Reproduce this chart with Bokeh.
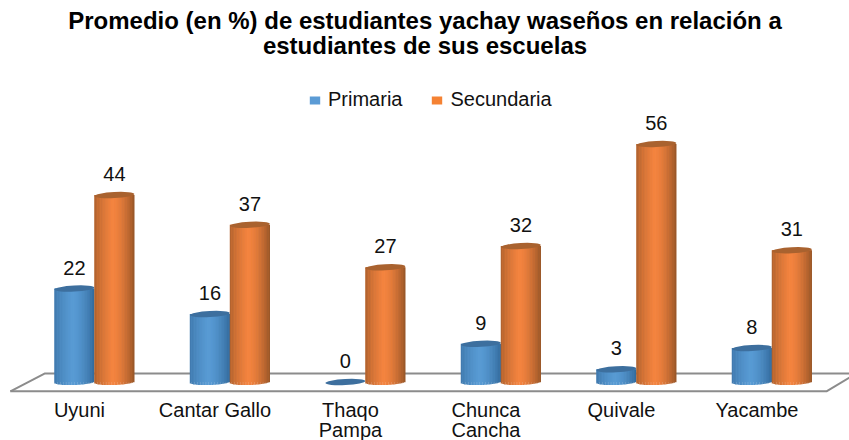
from bokeh.plotting import figure
from bokeh.embed import file_html
from bokeh.resources import INLINE
from bokeh.models import Range1d, FixedTicker, Legend, LegendItem, Title
import math

categories = ["Uyuni", "Cantar Gallo", "Thaqo\nPampa", "Chunca\nCancha", "Quivale", "Yacambe"]
primaria = [22, 16, 0, 9, 3, 8]
secundaria = [44, 37, 27, 32, 56, 31]
title_lines = ["Promedio (en %) de estudiantes yachay waseños en relación a", "estudiantes de sus escuelas"]

PX_Y = 4.25          # pixels per percentage point
PX_X = 135.5         # pixels per category
SKEW = 0.11          # depth shift of bars from their labels
BAR_W = 40 / PX_X
ELL_H = 6 / PX_Y
TILT = 1.5 / PX_Y
N = 26
font = "Liberation Sans"

p = figure(frame_width=849, frame_height=333, output_backend="svg", toolbar_location=None,
           x_range=Range1d(-0.583, 5.683), y_range=Range1d(-2.7, 75.65),
           min_border=0, min_border_top=60, min_border_left=0, min_border_right=0, min_border_bottom=0,
           background_fill_color="white", border_fill_color="white", outline_line_color=None,
           title=None)
p.grid.visible = False
p.yaxis.visible = False
p.add_layout(Title(text=title_lines[1], align="center", text_font=font, text_font_size="24px",
                   text_font_style="bold", text_color="#000000", standoff=3), "above")
p.add_layout(Title(text=title_lines[0], align="center", text_font=font, text_font_size="24px",
                   text_font_style="bold", text_color="#000000", standoff=-10), "above")

ax = p.xaxis[0]
ax.ticker = FixedTicker(ticks=list(range(len(categories))))
ax.major_label_overrides = {i: c for i, c in enumerate(categories)}
ax.axis_line_color = None
ax.major_tick_line_color = None
ax.minor_tick_line_color = None
ax.major_label_text_font = font
ax.major_label_text_font_size = "20px"
ax.major_label_text_color = "#111111"
ax.major_label_text_line_height = 0.95
ax.major_label_standoff = -1

# floor of the 3-D plot
p.line([-0.51, 5.513, 5.683], [-2.2, -2.2, 1.05], line_color="#8c8c8c", line_width=2)
p.line([-0.51, -0.258, 5.683], [-2.2, 2.0, 2.0], line_color="#8c8c8c", line_width=2)


def lerp(a, b, t):
    return tuple(round(a[i] + (b[i] - a[i]) * t) for i in range(3))


def shade(c, edgeL, mid, edgeR):
    if c < 0.45:
        return lerp(edgeL, mid, (c / 0.45) ** 0.7)
    return lerp(mid, edgeR, ((c - 0.45) / 0.55) ** 1.6)


def cylinders(vals, dx, edgeL, mid, edgeR, top_col, flat):
    xs = [i + SKEW + dx for i in range(len(vals))]
    base = p.vbar(x=xs, top=vals, bottom=0, width=BAR_W * 0.98, fill_color=flat, line_color=None)
    for x, v in zip(xs, vals):
        if v > 0:
            sx, st, sb, sc = [], [], [], []
            for k in range(N):
                c = (k + 0.5) / N
                t = 2 * c - 1
                arc = math.sqrt(max(0, 1 - t * t)) * ELL_H / 2
                sx.append(x + t * BAR_W / 2)
                st.append(v)
                sb.append(-arc + t * TILT * 0.5)
                sc.append("#%02x%02x%02x" % shade(c, edgeL, mid, edgeR))
            p.vbar(x=sx, top=st, bottom=sb, width=BAR_W / N * 1.15, fill_color=sc, line_color=None)
    p.ellipse(x=xs, y=vals, width=BAR_W, height=ELL_H, angle=math.radians(3),
              fill_color=top_col, line_color=None)
    p.text(x=xs, y=vals, text=[str(v) for v in vals], y_offset=-21, text_align="center",
           text_baseline="middle", text_font={"value": font}, text_font_size={"value": "20px"},
           text_color="#111111")
    return base


r1 = cylinders(primaria, -BAR_W / 2, (62, 118, 170), (88, 155, 212), (50, 105, 155), "#3d6f9e", "#5b9bd5")
r2 = cylinders(secundaria, BAR_W / 2, (170, 95, 45), (244, 132, 64), (150, 85, 40), "#a9622f", "#f58233")

leg = Legend(items=[LegendItem(label="Primaria", renderers=[r1]), LegendItem(label="Secundaria", renderers=[r2])],
             orientation="horizontal", location=(308, 333 - 51), border_line_color=None,
             background_fill_alpha=0, glyph_width=13, glyph_height=10, label_standoff=7, spacing=28,
             label_text_font=font, label_text_font_size="20px", label_text_color="#111111",
             padding=0, margin=0)
p.add_layout(leg, "center")

open("out.html", "w").write(file_html(p, INLINE))
